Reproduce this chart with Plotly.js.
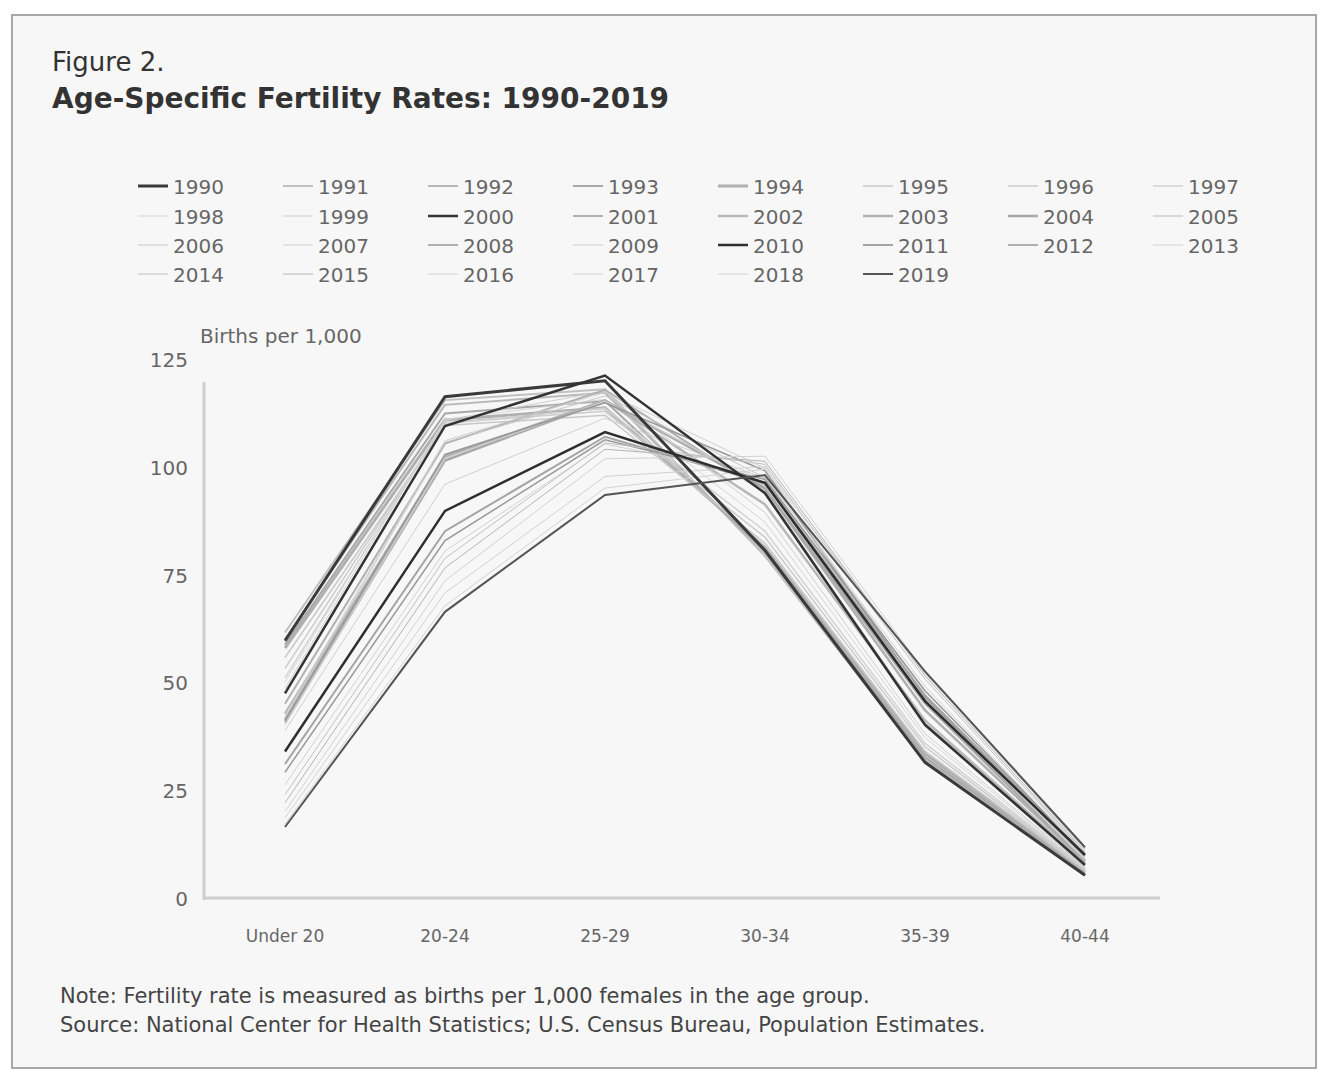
<!DOCTYPE html>
<html>
<head>
<meta charset="utf-8">
<script src="https://cdn.plot.ly/plotly-3.0.1.min.js"></script>
<style>html,body{margin:0;padding:0;background:#fff;}#chart{width:1320px;height:1071px;}</style>
</head>
<body>
<div id="chart"></div>
<script>
// ---- Data ----
const ageGroups = ["Under 20", "20-24", "25-29", "30-34", "35-39", "40-44"];
const years = [1990,1991,1992,1993,1994,1995,1996,1997,1998,1999,2000,2001,2002,2003,2004,2005,2006,2007,2008,2009,2010,2011,2012,2013,2014,2015,2016,2017,2018,2019];
const ratesUnder20 = [59.9,61.8,60.3,59.0,58.2,56.0,53.5,51.3,50.3,48.8,47.7,45.3,43.0,41.6,41.1,40.5,41.9,42.5,41.5,39.1,34.2,31.3,29.4,26.5,24.2,22.3,20.3,18.8,17.4,16.7];
const rates20to24 = [116.5,115.7,114.6,112.6,111.1,109.8,110.4,110.4,111.2,111.0,109.7,105.6,102.6,102.6,101.7,102.2,105.9,106.3,103.1,96.2,90.0,85.3,83.1,80.7,79.0,76.8,73.8,71.0,68.0,66.6];
const rates25to29 = [120.2,118.2,117.4,115.5,113.9,112.2,113.1,113.8,115.9,117.8,121.4,118.1,115.6,115.6,115.5,115.5,116.7,117.5,115.1,111.5,108.3,107.2,106.5,105.5,105.8,104.3,102.1,98.0,95.3,93.7];
const rates30to34 = [80.8,79.5,80.2,80.8,81.5,82.5,83.9,85.3,87.4,89.6,94.1,94.3,91.5,95.1,95.3,95.8,97.7,99.9,99.3,97.5,96.5,96.5,97.3,98.0,100.8,101.5,102.7,100.3,99.7,98.3];
const rates35to39 = [31.7,32.0,32.5,32.9,33.7,34.3,35.3,36.1,37.4,38.3,40.4,40.6,41.4,43.8,45.4,46.3,47.3,47.5,46.8,46.1,45.9,47.2,48.3,49.3,51.0,51.8,52.7,52.3,52.6,52.8];
const rates40to44 = [5.5,5.5,5.9,6.1,6.4,6.6,6.8,7.1,7.3,7.4,7.9,8.1,8.3,8.7,8.9,9.1,9.4,9.5,9.9,10.0,10.2,10.3,10.4,10.4,10.6,11.0,11.4,11.6,11.8,12.0];
const yTicks = [0, 25, 50, 75, 100, 125];

// ---- Styles ----
const lineColors = ["#3a3a3a","#c0c0c0","#b8b8b8","#a8a8a8","#b0b0b0","#c8c8c8","#cccccc","#d2d2d2","#d6d6d6","#cfcfcf",
                    "#333333","#b0b0b0","#b8b8b8","#b0b0b0","#a8a8a8","#cccccc","#c8c8c8","#cfcfcf","#999999","#cfcfcf",
                    "#2e2e2e","#a4a4a4","#999999","#d2d2d2","#c0c0c0","#b4b4b4","#d2d2d2","#d2d2d2","#d2d2d2","#555555"];
const lineWidths = [3,2,2,2,3,1.5,1.5,1.5,1,1,2.5,2,2.5,2.5,2.5,1.5,1,1,1.5,1,2.5,2,1.5,1,1,1,1,1,1,2];
const FONT = "DejaVu Sans, sans-serif";

const W = 1320, H = 1071;
const px = v => v / W;
const py = v => 1 - v / H;

const traces = years.map((yr, i) => {
  const row = Math.floor(i / 8);
  return {
    type: "scatter",
    mode: "lines",
    name: String(yr),
    x: ageGroups,
    y: [ratesUnder20[i], rates20to24[i], rates25to29[i], rates30to34[i], rates35to39[i], rates40to44[i]],
    line: {color: lineColors[i], width: lineWidths[i]},
    legend: row === 0 ? "legend" : "legend" + (row + 1),
    legendrank: i + 1,
    hoverinfo: "x+y+name"
  };
});
// draw dark lines on top (legend order kept by legendrank)
const isDark = t => t.line.color < "#600000";
traces.sort((a, b) => (isDark(a) ? 1 : 0) - (isDark(b) ? 1 : 0));

const legendRowsY = [186, 216, 245, 274];
const legendBase = {
  orientation: "h",
  xanchor: "left",
  yanchor: "middle",
  x: px(133),
  entrywidth: 100,
  entrywidthmode: "pixels",
  bgcolor: "rgba(0,0,0,0)",
  font: {family: FONT, size: 20, color: "#666"},
  itemclick: false,
  itemdoubleclick: false,
  traceorder: "normal"
};

const layout = {
  width: W,
  height: H,
  margin: {l: 0, r: 0, t: 0, b: 0},
  paper_bgcolor: "#ffffff",
  plot_bgcolor: "rgba(0,0,0,0)",
  font: {family: FONT, color: "#555"},
  showlegend: true,
  legend:  Object.assign({}, legendBase, {y: py(legendRowsY[0])}),
  legend2: Object.assign({}, legendBase, {y: py(legendRowsY[1])}),
  legend3: Object.assign({}, legendBase, {y: py(legendRowsY[2])}),
  legend4: Object.assign({}, legendBase, {y: py(legendRowsY[3])}),
  xaxis: {
    domain: [px(205), px(1165)],
    type: "category",
    range: [-0.5, 5.5],
    showgrid: false,
    zeroline: false,
    showline: false,
    ticks: "",
    ticklabelstandoff: 25,
    tickfont: {family: FONT, size: 17, color: "#666"},
    fixedrange: true
  },
  yaxis: {
    domain: [py(899), py(360)],
    range: [0, 125],
    tickvals: yTicks,
    showgrid: false,
    zeroline: false,
    showline: false,
    ticks: "",
    ticklabelstandoff: 16,
    tickfont: {family: FONT, size: 20, color: "#666"},
    fixedrange: true
  },
  shapes: [
    {type: "rect", xref: "paper", yref: "paper", x0: px(12), x1: px(1316), y0: py(1068), y1: py(15),
     line: {color: "#a8a8a8", width: 2}, fillcolor: "#f7f7f7", layer: "below"},
    {type: "line", xref: "paper", yref: "paper", x0: px(204), x1: px(204), y0: py(900), y1: py(382),
     line: {color: "#cfcfcf", width: 3}, layer: "below"},
    {type: "line", xref: "paper", yref: "paper", x0: px(204), x1: px(1160), y0: py(898), y1: py(898),
     line: {color: "#cfcfcf", width: 3}, layer: "below"}
  ],
  annotations: [
    {text: "Figure 2.", xref: "paper", yref: "paper", x: px(50), y: py(62), xanchor: "left", yanchor: "middle",
     showarrow: false, font: {family: FONT, size: 26, color: "#333"}},
    {text: "<b>Age-Specific Fertility Rates: 1990-2019</b>", xref: "paper", yref: "paper", x: px(50), y: py(98),
     xanchor: "left", yanchor: "middle", showarrow: false, font: {family: FONT, size: 28, color: "#333"}},
    {text: "Births per 1,000", xref: "paper", yref: "paper", x: px(198), y: py(336), xanchor: "left", yanchor: "middle",
     showarrow: false, font: {family: FONT, size: 20, color: "#666"}},
    {text: "Note: Fertility rate is measured as births per 1,000 females in the age group.", xref: "paper", yref: "paper",
     x: px(58), y: py(996), xanchor: "left", yanchor: "middle", showarrow: false,
     font: {family: FONT, size: 21, color: "#444"}},
    {text: "Source: National Center for Health Statistics; U.S. Census Bureau, Population Estimates.", xref: "paper", yref: "paper",
     x: px(58), y: py(1025), xanchor: "left", yanchor: "middle", showarrow: false,
     font: {family: FONT, size: 21, color: "#444"}}
  ]
};

Plotly.newPlot("chart", traces, layout, {displayModeBar: false, staticPlot: true});
</script>
</body>
</html>
